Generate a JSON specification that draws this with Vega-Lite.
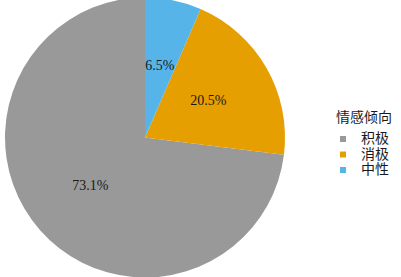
{
  "$schema": "https://vega.github.io/schema/vega-lite/v6.json",
  "width": 290,
  "height": 275,
  "padding": {"left": 0, "top": 0, "right": 111, "bottom": 2},
  "autosize": {"type": "none"},
  "background": "white",
  "config": {"view": {"stroke": null}},
  "data": {"values": [
    {"情感倾向": "积极", "比例": 0.731},
    {"情感倾向": "消极", "比例": 0.205},
    {"情感倾向": "中性", "比例": 0.065}
  ]},
  "encoding": {
    "theta": {"field": "比例", "type": "quantitative", "stack": true},
    "order": {"field": "比例", "type": "quantitative", "sort": "ascending"},
    "color": {
      "field": "情感倾向", "type": "nominal",
      "scale": {"domain": ["积极", "消极", "中性"], "range": ["#999999", "#E69F00", "#56B4E9"]},
      "legend": {
        "orient": "none", "legendX": 336, "legendY": 111,
        "padding": 0,
        "titleFont": "Noto Sans CJK SC", "titleFontSize": 14, "titleFontWeight": "normal", "titleColor": "#1a1a1a",
        "titlePadding": 7,
        "labelFont": "Noto Sans CJK SC", "labelFontSize": 14, "labelColor": "#1a1a1a",
        "symbolType": "square", "symbolSize": 36, "symbolStrokeWidth": 0, "symbolOpacity": 1,
        "labelOffset": 11, "rowPadding": 1.5
      }
    }
  },
  "layer": [
    {"mark": {"type": "arc", "outerRadius": 140, "stroke": null}},
    {
      "mark": {"type": "text", "radius": 73, "font": "Liberation Serif", "fontSize": 14},
      "encoding": {
        "text": {"field": "比例", "type": "quantitative", "format": ".1%"},
        "color": {"value": "#1a1a1a"},
        "detail": {"field": "情感倾向", "type": "nominal"}
      }
    }
  ]
}
